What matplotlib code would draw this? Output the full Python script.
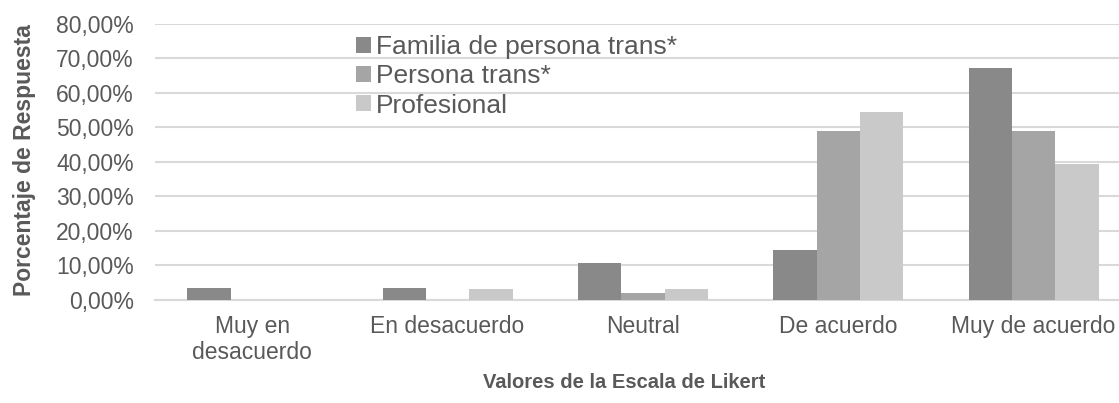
import numpy as np
import matplotlib.pyplot as plt
from matplotlib.patches import Patch
from matplotlib.ticker import FuncFormatter

plt.rcParams['font.family'] = ['Liberation Sans', 'DejaVu Sans']

categories = ['Muy en\ndesacuerdo', 'En desacuerdo', 'Neutral', 'De acuerdo', 'Muy de acuerdo']
series_names = ['Familia de persona trans*', 'Persona trans*', 'Profesional']
familia = [0.034, 0.034, 0.107, 0.144, 0.673]
persona = [0.0, 0.0, 0.0204, 0.4898, 0.4898]
profesional = [0.0, 0.0303, 0.0303, 0.5455, 0.3939]
colors = ['#898989', '#a5a5a5', '#c9c9c9']
text_color = '#595959'

fig = plt.figure(figsize=(11.19, 4.03), dpi=100)
ax = fig.add_axes([0.1382, 0.2563, 1 - 0.1382, 0.9404 - 0.2563])

x = np.arange(len(categories))
w = 0.222
for i, (vals, c) in enumerate(zip([familia, persona, profesional], colors)):
    ax.bar(x + (i - 1) * w, vals, width=w, color=c, zorder=3)

ax.set_ylim(0, 0.8)
ax.set_xlim(-0.5, 4.4375)
ax.set_yticks(np.arange(0, 0.81, 0.1))
ax.yaxis.set_major_formatter(FuncFormatter(lambda v, p: f'{v * 100:.2f}%'.replace('.', ',')))
ax.set_xticks(x)
ax.set_xticklabels(categories, linespacing=1.15)
ax.grid(axis='y', color='#d9d9d9', lw=1.5, zorder=0)
ax.tick_params(axis='both', length=0, labelsize=16.5, labelcolor=text_color)
ax.tick_params(axis='y', pad=15)
ax.tick_params(axis='x', pad=11)
for s in ['top', 'right', 'left']:
    ax.spines[s].set_visible(False)
ax.spines['bottom'].set_color('#d9d9d9')
ax.spines['bottom'].set_linewidth(1.5)

ax.set_xlabel('Valores de la Escala de Likert', fontsize=14.5, fontweight='bold', color=text_color)
ax.xaxis.set_label_coords(0.4867, -0.2985)
ax.xaxis.label.set_va('center')
ax.set_ylabel('Porcentaje de Respuesta', fontsize=16.5, fontweight='bold', color=text_color)
ax.yaxis.set_label_coords(-0.1345, 0.507)
ax.yaxis.label.set_va('center')

handles = [Patch(facecolor=c, edgecolor='none') for c in colors]
leg = fig.legend(handles, series_names, loc='upper left', bbox_to_anchor=(356 / 1119, 1 - 35 / 403),
                 frameon=False, fontsize=19, handlelength=0.55, handleheight=0.55,
                 handletextpad=0.22, labelspacing=0.2, borderpad=0, borderaxespad=0)
for t in leg.get_texts():
    t.set_color(text_color)

fig.savefig('out.png', dpi=100)
